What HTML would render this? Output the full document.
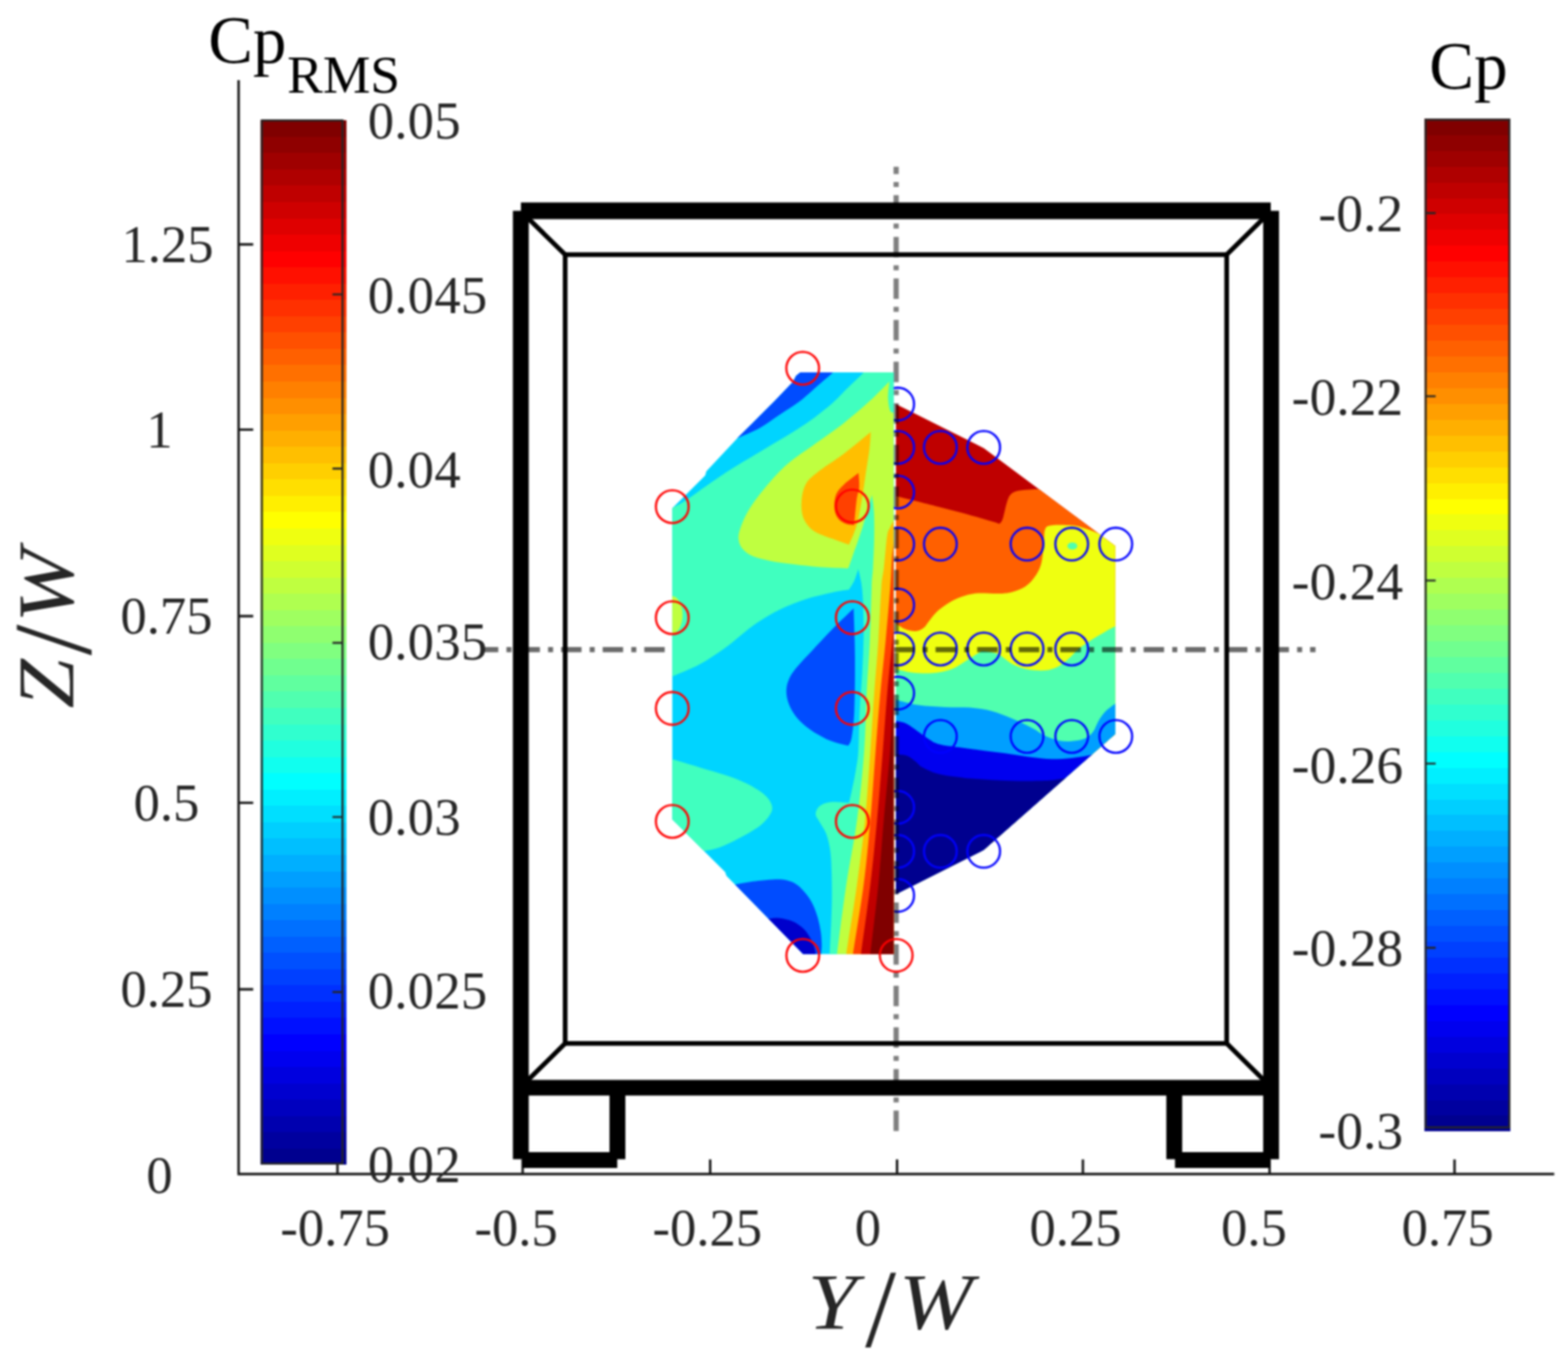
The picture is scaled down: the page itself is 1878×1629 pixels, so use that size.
<!DOCTYPE html>
<html lang="en">
<head>
<meta charset="utf-8">
<title>Cp and Cp RMS base pressure contours</title>
<style>
html,body{margin:0;padding:0;background:#fff;}
body{width:1878px;height:1629px;overflow:hidden;}
svg{display:block;}
</style>
</head>
<body>
<svg width="1878" height="1629" viewBox="0 0 1878 1629">
<rect width="1878" height="1629" fill="#fff"/>
<defs><filter id="soft" x="-2%" y="-2%" width="104%" height="104%" color-interpolation-filters="sRGB"><feGaussianBlur stdDeviation="1.0"/></filter></defs>
<g filter="url(#soft)">
<defs>
<clipPath id="cr"><polygon points="1073.1,484 1178.2,536.7 1335.8,654.1 1335.8,879.2 1178.2,1018.1 1073.1,1070.9"/></clipPath>
<clipPath id="cl"><polygon points="958.5,446 953.5,450 949.5,457.5 928,480 884.2,523.8 846,564.5 844.6,569.5 805.2,608.8 805.2,981.5 868.5,1044.5 870,1049 961.9,1142.8 1070.3,1142.8 1070.3,446"/></clipPath>
</defs>
<g clip-path="url(#cr)">
<rect x="1060" y="470" width="290" height="620" fill="#bf0000"/>
<path fill="#ff6000" d="M1060,593C1062.1,593.2 1062.1,591.9 1072.8,594.2C1083.5,596.5 1107.4,602.8 1123.9,607C1140.4,611.2 1160.3,616.5 1171.8,619.7C1183.3,622.9 1189.5,625 1193,626L1197,627.5C1197.7,626.5 1199.6,625.5 1201,621.5C1202.4,617.5 1203.9,608.6 1205.4,603.8C1206.9,599 1207.8,595.3 1210.2,592.6C1212.6,589.9 1215.5,588.9 1219.7,587.8C1224,586.7 1230.7,586.5 1235.7,586.2C1240.8,585.9 1247.6,586 1250,586L1350,586L1350,1100L1060,1100Z"/>
<path fill="#efff10" d="M1340,652C1336.5,650.1 1325.5,643.7 1318.8,640.5C1312.1,637.3 1305.9,634.9 1300,633C1294.1,631.1 1290.3,629.9 1283.6,629.3C1276.9,628.7 1265,628.5 1259.7,629.3C1254.4,630.1 1253.3,630.4 1251.7,634.1C1250.1,637.8 1250.9,644.8 1250.1,651.7C1249.3,658.6 1248.8,669.1 1246.9,675.7C1245,682.4 1242.1,687.1 1238.9,691.6C1235.7,696.1 1232.2,699.9 1227.7,702.8C1223.2,705.7 1217.1,707.8 1211.8,709.2C1206.5,710.6 1202.5,710.8 1195.8,711C1189.1,711.2 1178.5,710.1 1171.8,710.5C1165.1,710.9 1161.1,711.9 1155.8,713.5C1150.5,715.1 1145.2,717 1139.9,719.9C1134.6,722.8 1128.4,727.1 1123.9,731.1C1119.4,735.1 1115.6,740.4 1112.7,743.9C1109.8,747.4 1109,749.9 1106.3,751.9C1103.6,753.9 1100.4,755.6 1096.7,755.9C1093,756.2 1088,755 1084,753.5C1080,752 1076.8,749 1072.8,747.1C1068.8,745.2 1062.1,742.9 1060,742L1060,1100L1350,1100Z"/>
<path fill="#50ffaf" d="M1060,800C1062.1,800.2 1067.5,800.5 1072.8,801.4C1078.1,802.3 1084.8,804.6 1092,805.4C1099.2,806.2 1107.9,806.9 1115.9,806.2C1123.9,805.5 1132.7,804.1 1139.9,801.4C1147.1,798.7 1153.7,793.4 1159,790.2C1164.3,787 1168.6,783.9 1171.8,782.2C1175,780.5 1174.2,779.5 1178.2,779.8C1182.2,780.1 1190.2,781.3 1195.8,783.8C1201.4,786.3 1206.2,792.1 1211.8,795C1217.4,797.9 1222.6,800.1 1229.3,801.4C1236,802.7 1245.3,803.5 1251.7,803C1258.1,802.5 1262.9,800.6 1267.7,798.2C1272.5,795.8 1276.4,792.1 1280.4,788.6C1284.4,785.1 1287.1,781.1 1291.6,777.4C1296.1,773.7 1302.3,769.8 1307.6,766.3C1312.9,762.8 1318.9,759.4 1323.6,756.7C1328.3,754 1331.2,752.4 1335.6,750.3C1340,748.2 1347.6,745 1350,744L1350,1100L1060,1100Z"/>
<ellipse cx="1284.4" cy="654" rx="6" ry="4.3" fill="#50ffaf"/>
<path fill="#009fff" d="M1060,836C1062.1,836.4 1066.1,836.7 1072.8,838.1C1079.5,839.5 1090.1,843 1099.9,844.5C1109.8,846 1121.2,846.4 1131.9,846.9C1142.6,847.4 1154.5,846.9 1163.8,847.7C1173.1,848.5 1179.8,849.6 1187.8,851.7C1195.8,853.8 1203.8,857.2 1211.8,860.5C1219.8,863.8 1229,868.2 1235.7,871.7C1242.4,875.2 1246.4,878.8 1251.7,881.3C1257,883.8 1262.4,885.8 1267.7,886.9C1273,888 1278.3,888.1 1283.6,887.7C1288.9,887.3 1295.3,886.4 1299.6,884.5C1303.9,882.6 1306.5,880 1309.2,876.5C1311.9,873 1313.2,867.7 1315.6,863.7C1318,859.7 1320.3,856 1323.6,852.5C1326.9,849 1331.2,846 1335.6,842.9C1340,839.8 1347.6,835.5 1350,834L1350,1100L1060,1100Z"/>
<path fill="#0000ef" d="M1060,862C1062.1,862.2 1068.5,862.7 1072.8,863.5C1077.1,864.3 1081.5,864.8 1086,867C1090.5,869.2 1095.6,873.5 1099.9,876.5C1104.2,879.5 1108,882.5 1112,885C1116,887.5 1117.9,889.5 1123.9,891.2C1129.9,892.9 1139.9,893.9 1147.9,895.1C1155.9,896.3 1162.5,897.1 1171.8,898.3C1181.1,899.5 1193.1,900.8 1203.8,902.3C1214.5,903.8 1226.4,905.9 1235.7,907.1C1245,908.3 1251.7,909.2 1259.7,909.3C1267.7,909.4 1276.1,908.7 1283.6,907.9C1291,907.1 1298.3,906 1304.4,904.7C1310.5,903.4 1317.4,900.8 1320,900L1350,1100L1060,1100Z"/>
<path fill="#00008f" d="M1060,902C1062.1,902.2 1068.3,902.7 1072.8,903.3C1077.3,903.9 1083,904 1087,905.5C1091,907 1094,910.2 1097,912.5C1100,914.8 1100.2,916.7 1104.7,919.1C1109.2,921.5 1115.4,925 1123.9,927.1C1132.4,929.2 1145.2,930.7 1155.8,931.9C1166.4,933.1 1177.1,933.7 1187.8,934.3C1198.5,934.9 1209,935.4 1219.7,935.5C1230.4,935.6 1242.9,935.6 1251.7,935.1C1260.5,934.6 1266.1,933.7 1272.5,932.7C1278.9,931.7 1287.1,929.6 1290,929L1350,1100L1060,1100Z"/>
</g>
<g fill="none" stroke="#0000ff" stroke-width="2.6">
<circle cx="1075.2" cy="484" r="19.6"/>
<circle cx="1075.2" cy="535.9" r="19.6"/>
<circle cx="1075.2" cy="589.4" r="19.6"/>
<circle cx="1075.2" cy="651.7" r="19.6"/>
<circle cx="1075.2" cy="724.7" r="19.6"/>
<circle cx="1075.2" cy="777.4" r="19.6"/>
<circle cx="1075.2" cy="830.2" r="19.6"/>
<circle cx="1075.2" cy="967" r="19.6"/>
<circle cx="1075.2" cy="1019.7" r="19.6"/>
<circle cx="1075.2" cy="1072.5" r="19.6"/>
<circle cx="1126.3" cy="535.9" r="19.6"/>
<circle cx="1178.2" cy="535.9" r="19.6"/>
<circle cx="1126.3" cy="651.7" r="19.6"/>
<circle cx="1230.1" cy="651.7" r="19.6"/>
<circle cx="1283.6" cy="651.7" r="19.6"/>
<circle cx="1336.4" cy="651.7" r="19.6"/>
<circle cx="1126.3" cy="777.4" r="19.6"/>
<circle cx="1178.2" cy="777.4" r="19.6"/>
<circle cx="1230.1" cy="777.4" r="19.6"/>
<circle cx="1283.6" cy="777.4" r="19.6"/>
<circle cx="1126.3" cy="882.1" r="19.6"/>
<circle cx="1230.1" cy="882.1" r="19.6"/>
<circle cx="1283.6" cy="882.1" r="19.6"/>
<circle cx="1336.4" cy="882.1" r="19.6"/>
<circle cx="1126.3" cy="1019.7" r="19.6"/>
<circle cx="1178.2" cy="1019.7" r="19.6"/>
</g>
<g stroke="#000" stroke-opacity="0.5" stroke-width="6.2" stroke-dasharray="24.5 9.8 6 9.54" fill="none">
<path d="M1073.3,1354.8V199.8"/>
<path d="M580,778.2H1575.6" stroke-dashoffset="7.7" stroke-opacity="0.58"/>
</g>
<g clip-path="url(#cl)">
<rect x="795" y="436" width="285" height="716" fill="#00d4ff"/>
<path fill="#004cff" d="M1004,436C1003,437.7 1001.4,442 997.7,446C994,450 988.4,454.1 981.7,459.9C975,465.7 965.7,474.6 957.7,480.7C949.7,486.8 941.8,491.4 933.8,496.7C925.8,502 918.1,508.1 909.8,512.7C901.5,517.3 890.3,521.5 884,524.5C877.7,527.5 874,529.9 872,531L850,430Z"/>
<path fill="#004cff" d="M1022.4,728.7C1018.3,732.7 1005.8,744.5 997.7,752.7C989.6,761 980.9,770.5 973.7,778.2C966.5,785.9 959.3,793.1 954.5,799C949.7,804.9 947.1,808.6 945,813.4C942.9,818.2 941.8,822.7 941.8,827.7C941.8,832.8 942.9,838.4 945,843.7C947.1,849 950.2,854.6 954.5,859.7C958.8,864.8 964.6,869.9 970.5,874.1C976.4,878.4 983.9,882.4 989.7,885.2C995.6,888 1001.2,889.5 1005.6,890.8C1010,892.1 1014.3,892.8 1016,893.2L1016,893.2C1016.7,891.6 1018.8,890.5 1020,883.6C1021.2,876.7 1022.5,867.7 1023.2,851.7C1023.9,835.7 1024.1,808.3 1024,787.8C1023.9,767.3 1022.7,738.6 1022.4,728.7Z"/>
<path fill="#004cff" d="M870,1062C871.6,1061.6 874.2,1060.7 879.5,1059.7C884.8,1058.7 894.1,1056.8 901.8,1055.8C909.5,1054.8 919.1,1053.7 925.8,1053.4C932.5,1053.1 937,1053.2 941.8,1054.2C946.6,1055.2 950.5,1056.9 954.5,1059.7C958.5,1062.5 962.5,1066.9 965.7,1070.9C968.9,1074.9 971.4,1078.9 973.7,1083.7C976,1088.5 978.1,1094.4 979.6,1099.7C981.1,1105 982.2,1110.4 983,1115.7C983.8,1121 984.1,1127.1 984.2,1131.6C984.3,1136.1 983.6,1139.4 983.4,1142.8C983.2,1146.2 983.1,1150.5 983,1152L850,1152L850,1040Z"/>
<path fill="#0000cc" d="M912,1102C913.5,1101.8 917.4,1100.9 921,1100.5C924.6,1100.1 929,1099.2 933.8,1099.7C938.6,1100.2 944.9,1101.6 949.7,1103.7C954.5,1105.8 959,1109.2 962.5,1112.5C966,1115.8 968.4,1119.9 970.5,1123.6C972.6,1127.3 974.2,1131.6 975.3,1134.8C976.4,1138 976.6,1139.9 976.9,1142.8C977.2,1145.7 977,1150.5 977,1152L900,1152L900,1090Z"/>
<path fill="#40ffbf" d="M1040,436C1039.1,437.7 1038.8,440.9 1034.4,446C1030,451.1 1019.7,460.2 1013.6,466.3C1007.5,472.4 1004.4,476.4 997.7,482.3C991.1,488.2 981.7,495.6 973.7,501.5C965.7,507.4 957.7,512.4 949.7,517.4C941.7,522.4 933.8,527 925.8,531.8C917.8,536.6 909.8,541.4 901.8,546.2C893.8,551 885.9,555.6 877.9,560.6C869.9,565.6 860.6,572 853.9,576.5C847.2,581 843.2,584 837.9,587.7C832.6,591.4 827.3,595.4 821.9,598.9C816.5,602.4 809.7,606 805.2,608.5C800.7,611 796.7,613.1 795,614L795,814C796.7,813.4 798.1,813.2 805.2,810.2C812.4,807.2 827.1,801.7 837.9,795.8C848.7,789.9 859.2,782.7 869.9,775C880.5,767.3 891.1,757 901.8,749.5C912.4,742 923.1,735.6 933.8,730.3C944.4,725 955.1,721 965.7,717.5C976.4,714 989.2,711.4 997.7,709.5C1006.2,707.6 1013.6,706.8 1016.8,706.3L1016.8,706.3C1017.8,704.6 1021.1,700.1 1023,696C1024.9,691.9 1027.2,684 1028,681.6L1028,681.6C1028.8,686 1031.7,695.5 1032.8,707.9C1033.9,720.3 1034.4,739.8 1034.4,755.8C1034.4,771.8 1033.6,787.8 1032.8,803.8C1032,819.8 1030.4,835.7 1029.6,851.7C1028.8,867.7 1028.8,888 1028,900C1027.2,912 1026.1,916 1024.8,924C1023.5,932 1021.3,941.6 1020,947.9C1018.7,954.1 1017.3,959.2 1016.8,961.5L1016.8,961.5C1013.1,961.4 1000.4,960 994.5,960.7C988.6,961.4 984.6,963.1 981.7,965.5C978.8,967.9 976.9,971.9 976.9,975.1C976.9,978.3 979.6,980.7 981.7,984.7C983.8,988.7 987.6,993.1 989.7,999C991.8,1004.9 993.5,1012.3 994.5,1019.8C995.5,1027.3 995.7,1034.5 996,1043.8C996.3,1053.1 996.5,1065 996.4,1075.7C996.3,1086.4 995.9,1096.5 995.4,1107.7C994.9,1118.9 994,1135.4 993.6,1142.8C993.2,1150.2 993.3,1150.5 993.3,1152L1080,1152L1080,436Z"/>
<path fill="#40ffbf" d="M795,908C796.7,908.3 798.1,907.7 805.2,909.6C812.4,911.5 827.1,916 837.9,919.2C848.7,922.4 860.6,925.6 869.9,928.8C879.2,932 886.3,934.6 893.8,938.3C901.2,942 909.5,946.8 914.6,951.1C919.7,955.4 922.9,959.9 924.2,963.9C925.5,967.9 925,970.8 922.6,975.1C920.2,979.4 915.9,984.7 909.8,989.5C903.7,994.3 893.8,999.5 885.8,1003.8C877.8,1008 868.8,1012.5 861.9,1015C855,1017.5 848.6,1018.2 844.3,1019C840,1019.8 837.4,1019.8 836,1020L795,1022Z"/>
<path fill="#bfff40" d="M1065.2,456.9C1061.2,460.8 1050.5,472.3 1041.4,480.6C1032.3,488.9 1020.9,498.6 1010.7,506.7C1000.5,514.8 989.6,522.1 980,529C970.4,535.9 960,542.8 953,548C946,553.2 943.1,555.7 938,560.5C932.9,565.3 927.7,571.1 922.5,577C917.3,582.9 911.6,589.8 907,596C902.4,602.2 898.3,608 895,614C891.7,620 888.8,626.8 887,632C885.2,637.2 884.2,640.8 884.5,645C884.8,649.2 886.1,653.5 889,657C891.9,660.5 895.7,663.7 901.8,666.3C907.9,668.9 917.8,671 925.8,672.6C933.8,674.2 940.4,674.7 949.7,675.8C959,676.9 970.7,678.4 981.7,679.2C992.8,680 1010.3,680.5 1016,680.8L1016,680.8C1016.7,678.9 1018.8,673.1 1020,669.6C1021.2,666.1 1022.2,662.9 1023.2,660C1024.2,657.1 1024.2,657.6 1026,652.5C1027.8,647.4 1030.6,639.5 1033.7,629.5C1036.8,619.5 1042.6,598.8 1044.4,592.7L1044.4,592.7C1044.8,596.3 1046.4,605.4 1046.8,614.1C1047.2,622.8 1047.2,633.8 1047,644.8C1046.8,655.8 1046.1,670.1 1045.6,680C1045.1,689.9 1044.6,689.3 1044,704C1043.4,718.7 1042.8,746.8 1041.8,768C1040.8,789.2 1039.1,809 1038,831C1036.9,853 1036.9,874.7 1035,900C1033.1,925.3 1030,956.4 1026.4,983C1022.8,1009.6 1017.6,1033.1 1013.6,1059.7C1009.6,1086.3 1004.5,1127.4 1002.5,1142.8C1000.5,1158.2 1001.7,1150.5 1001.5,1152L1080,1152L1080,496C1078.4,495.7 1072.6,495.2 1070.3,494.4C1068,493.6 1067,494.5 1065.9,491.4C1064.8,488.3 1063.7,481.8 1063.6,476C1063.5,470.2 1064.9,460.1 1065.2,456.9Z"/>
<ellipse cx="805" cy="736.5" rx="12.5" ry="22.5" fill="#bfff40"/>
<path fill="#ffbf00" d="M1042.9,517.5C1037.5,521.8 1021.2,535.6 1010.7,543.5C1000.2,551.4 987.6,558.9 980,565C972.4,571.1 968.3,574.2 965,580C961.7,585.8 960.5,593.3 960,600C959.5,606.7 960,614.3 962,620C964,625.7 968.2,630.5 972,634C975.8,637.5 981.1,639.2 985,641C988.9,642.8 990,642.9 995.3,644.8C1000.6,646.7 1013.2,651.2 1016.8,652.5L1016.8,652.5C1018.3,648.7 1023.4,638.5 1026,629.5C1028.6,620.5 1030.4,609 1032.2,598.8C1034,588.6 1035.3,578.3 1036.8,568.1C1038.3,557.9 1040.4,545.8 1041.4,537.4C1042.4,529 1042.7,520.8 1042.9,517.5Z"/>
<path fill="#ffbf00" d="M1071,622C1070.2,623.7 1067.4,628.7 1066,632C1064.6,635.3 1063.7,634 1062.5,642C1061.3,650 1059.8,669.7 1058.6,680C1057.4,690.3 1056.7,689.3 1055.6,704C1054.5,718.7 1053.4,746.8 1052,768C1050.6,789.2 1048.6,809 1047,831C1045.4,853 1044.2,874.7 1042.4,900C1040.6,925.3 1038.7,956.4 1036,983C1033.3,1009.6 1030.1,1033.1 1026.4,1059.7C1022.7,1086.3 1015.9,1127.4 1013.6,1142.8C1011.3,1158.2 1012.8,1150.5 1012.6,1152L1080,1152L1080,622Z"/>
<path fill="#ff4000" d="M1028.3,566.6C1025.4,568.9 1015.2,576.2 1010.7,580.4C1006.2,584.6 1003.4,587.4 1001.5,592C999.6,596.6 999,603.3 999.3,608C999.5,612.7 1000.9,616.8 1003,620C1005.1,623.2 1008.7,625.5 1012,627C1015.3,628.5 1021.2,628.7 1023,629L1023,629C1023.5,624 1025,606.4 1026,598.8C1027,591.2 1028.7,588.8 1029.1,583.4C1029.5,578 1028.4,569.4 1028.3,566.6Z"/>
<path fill="#ff4000" d="M1071,645C1070.6,648.8 1069.2,658.2 1068.4,668C1067.6,677.8 1067.6,687.3 1066.3,704C1065,720.7 1062.7,746.8 1060.7,768C1058.7,789.2 1056.3,809 1054.3,831C1052.3,853 1050.7,874.7 1048.7,900C1046.7,925.3 1044.8,956.4 1042.4,983C1040,1009.6 1037.9,1033.1 1034.4,1059.7C1030.9,1086.3 1023.9,1127.4 1021.6,1142.8C1019.3,1158.2 1020.8,1150.5 1020.6,1152L1080,1152L1080,645Z"/>
<path fill="#c00000" d="M1071,742C1070.6,746.3 1070.1,753.2 1068.7,768C1067.3,782.8 1064.5,809 1062.6,831C1060.7,853 1059.3,874.7 1057.3,900C1055.3,925.3 1052.9,956.4 1050.4,983C1047.9,1009.6 1045.6,1033.1 1042.4,1059.7C1039.2,1086.3 1033.2,1127.4 1031.2,1142.8C1029.2,1158.2 1030.4,1150.5 1030.2,1152L1080,1152L1080,742Z"/>
<path fill="#800000" d="M1071,815C1070.7,819.2 1070.1,825.8 1069.3,840C1068.5,854.2 1067.8,876.2 1066,900C1064.2,923.8 1060.7,956.4 1058.4,983C1056.1,1009.6 1054.7,1033.1 1052,1059.7C1049.3,1086.3 1044.2,1127.4 1042.4,1142.8C1040.6,1158.2 1041.6,1150.5 1041.4,1152L1080,1152L1080,815Z"/>
</g>
<g stroke="#141414" stroke-width="2.9" fill="none">
<path d="M285.8,96V1406.2H1861.5"/>
<path d="M285.8,1185h17.5M285.8,961.6h17.5M285.8,738h17.5M285.8,514.6h17.5M285.8,292.7h17.5M404.2,1406.2v-17.5M626,1406.2v-17.5M850.6,1406.2v-17.5M1074.4,1406.2v-17.5M1297,1406.2v-17.5M1520.6,1406.2v-17.5M1742.1,1406.2v-17.5"/>
</g>
<g shape-rendering="crispEdges"><rect x="312.4" y="1375.25" width="102.7" height="19.55" fill="#00008f"/><rect x="312.4" y="1355.70" width="102.7" height="20.15" fill="#00009f"/><rect x="312.4" y="1336.15" width="102.7" height="20.15" fill="#0000af"/><rect x="312.4" y="1316.60" width="102.7" height="20.15" fill="#0000bf"/><rect x="312.4" y="1297.05" width="102.7" height="20.15" fill="#0000cf"/><rect x="312.4" y="1277.50" width="102.7" height="20.15" fill="#0000df"/><rect x="312.4" y="1257.95" width="102.7" height="20.15" fill="#0000ef"/><rect x="312.4" y="1238.40" width="102.7" height="20.15" fill="#0000ff"/><rect x="312.4" y="1218.85" width="102.7" height="20.15" fill="#0010ff"/><rect x="312.4" y="1199.30" width="102.7" height="20.15" fill="#0020ff"/><rect x="312.4" y="1179.75" width="102.7" height="20.15" fill="#0030ff"/><rect x="312.4" y="1160.20" width="102.7" height="20.15" fill="#0040ff"/><rect x="312.4" y="1140.65" width="102.7" height="20.15" fill="#0050ff"/><rect x="312.4" y="1121.10" width="102.7" height="20.15" fill="#0060ff"/><rect x="312.4" y="1101.55" width="102.7" height="20.15" fill="#0070ff"/><rect x="312.4" y="1082.00" width="102.7" height="20.15" fill="#0080ff"/><rect x="312.4" y="1062.45" width="102.7" height="20.15" fill="#008fff"/><rect x="312.4" y="1042.90" width="102.7" height="20.15" fill="#009fff"/><rect x="312.4" y="1023.35" width="102.7" height="20.15" fill="#00afff"/><rect x="312.4" y="1003.80" width="102.7" height="20.15" fill="#00bfff"/><rect x="312.4" y="984.25" width="102.7" height="20.15" fill="#00cfff"/><rect x="312.4" y="964.70" width="102.7" height="20.15" fill="#00dfff"/><rect x="312.4" y="945.15" width="102.7" height="20.15" fill="#00efff"/><rect x="312.4" y="925.60" width="102.7" height="20.15" fill="#00ffff"/><rect x="312.4" y="906.05" width="102.7" height="20.15" fill="#10ffef"/><rect x="312.4" y="886.50" width="102.7" height="20.15" fill="#20ffdf"/><rect x="312.4" y="866.95" width="102.7" height="20.15" fill="#30ffcf"/><rect x="312.4" y="847.40" width="102.7" height="20.15" fill="#40ffbf"/><rect x="312.4" y="827.85" width="102.7" height="20.15" fill="#50ffaf"/><rect x="312.4" y="808.30" width="102.7" height="20.15" fill="#60ff9f"/><rect x="312.4" y="788.75" width="102.7" height="20.15" fill="#70ff8f"/><rect x="312.4" y="769.20" width="102.7" height="20.15" fill="#80ff80"/><rect x="312.4" y="749.65" width="102.7" height="20.15" fill="#8fff70"/><rect x="312.4" y="730.10" width="102.7" height="20.15" fill="#9fff60"/><rect x="312.4" y="710.55" width="102.7" height="20.15" fill="#afff50"/><rect x="312.4" y="691.00" width="102.7" height="20.15" fill="#bfff40"/><rect x="312.4" y="671.45" width="102.7" height="20.15" fill="#cfff30"/><rect x="312.4" y="651.90" width="102.7" height="20.15" fill="#dfff20"/><rect x="312.4" y="632.35" width="102.7" height="20.15" fill="#efff10"/><rect x="312.4" y="612.80" width="102.7" height="20.15" fill="#ffff00"/><rect x="312.4" y="593.25" width="102.7" height="20.15" fill="#ffef00"/><rect x="312.4" y="573.70" width="102.7" height="20.15" fill="#ffdf00"/><rect x="312.4" y="554.15" width="102.7" height="20.15" fill="#ffcf00"/><rect x="312.4" y="534.60" width="102.7" height="20.15" fill="#ffbf00"/><rect x="312.4" y="515.05" width="102.7" height="20.15" fill="#ffaf00"/><rect x="312.4" y="495.50" width="102.7" height="20.15" fill="#ff9f00"/><rect x="312.4" y="475.95" width="102.7" height="20.15" fill="#ff8f00"/><rect x="312.4" y="456.40" width="102.7" height="20.15" fill="#ff8000"/><rect x="312.4" y="436.85" width="102.7" height="20.15" fill="#ff7000"/><rect x="312.4" y="417.30" width="102.7" height="20.15" fill="#ff6000"/><rect x="312.4" y="397.75" width="102.7" height="20.15" fill="#ff5000"/><rect x="312.4" y="378.20" width="102.7" height="20.15" fill="#ff4000"/><rect x="312.4" y="358.65" width="102.7" height="20.15" fill="#ff3000"/><rect x="312.4" y="339.10" width="102.7" height="20.15" fill="#ff2000"/><rect x="312.4" y="319.55" width="102.7" height="20.15" fill="#ff1000"/><rect x="312.4" y="300.00" width="102.7" height="20.15" fill="#ff0000"/><rect x="312.4" y="280.45" width="102.7" height="20.15" fill="#ef0000"/><rect x="312.4" y="260.90" width="102.7" height="20.15" fill="#df0000"/><rect x="312.4" y="241.35" width="102.7" height="20.15" fill="#cf0000"/><rect x="312.4" y="221.80" width="102.7" height="20.15" fill="#bf0000"/><rect x="312.4" y="202.25" width="102.7" height="20.15" fill="#af0000"/><rect x="312.4" y="182.70" width="102.7" height="20.15" fill="#9f0000"/><rect x="312.4" y="163.15" width="102.7" height="20.15" fill="#8f0000"/><rect x="312.4" y="143.60" width="102.7" height="20.15" fill="#800000"/></g>
<rect x="313.6" y="144.2" width="96.6" height="1249.5" fill="none" stroke="#262626" stroke-width="2.4"/>
<g shape-rendering="crispEdges"><rect x="1706.2" y="1335.85" width="103" height="18.95" fill="#00008f"/><rect x="1706.2" y="1316.91" width="103" height="19.55" fill="#00009f"/><rect x="1706.2" y="1297.96" width="103" height="19.55" fill="#0000af"/><rect x="1706.2" y="1279.01" width="103" height="19.55" fill="#0000bf"/><rect x="1706.2" y="1260.07" width="103" height="19.55" fill="#0000cf"/><rect x="1706.2" y="1241.12" width="103" height="19.55" fill="#0000df"/><rect x="1706.2" y="1222.17" width="103" height="19.55" fill="#0000ef"/><rect x="1706.2" y="1203.22" width="103" height="19.55" fill="#0000ff"/><rect x="1706.2" y="1184.28" width="103" height="19.55" fill="#0010ff"/><rect x="1706.2" y="1165.33" width="103" height="19.55" fill="#0020ff"/><rect x="1706.2" y="1146.38" width="103" height="19.55" fill="#0030ff"/><rect x="1706.2" y="1127.44" width="103" height="19.55" fill="#0040ff"/><rect x="1706.2" y="1108.49" width="103" height="19.55" fill="#0050ff"/><rect x="1706.2" y="1089.54" width="103" height="19.55" fill="#0060ff"/><rect x="1706.2" y="1070.60" width="103" height="19.55" fill="#0070ff"/><rect x="1706.2" y="1051.65" width="103" height="19.55" fill="#0080ff"/><rect x="1706.2" y="1032.70" width="103" height="19.55" fill="#008fff"/><rect x="1706.2" y="1013.76" width="103" height="19.55" fill="#009fff"/><rect x="1706.2" y="994.81" width="103" height="19.55" fill="#00afff"/><rect x="1706.2" y="975.86" width="103" height="19.55" fill="#00bfff"/><rect x="1706.2" y="956.92" width="103" height="19.55" fill="#00cfff"/><rect x="1706.2" y="937.97" width="103" height="19.55" fill="#00dfff"/><rect x="1706.2" y="919.02" width="103" height="19.55" fill="#00efff"/><rect x="1706.2" y="900.08" width="103" height="19.55" fill="#00ffff"/><rect x="1706.2" y="881.13" width="103" height="19.55" fill="#10ffef"/><rect x="1706.2" y="862.18" width="103" height="19.55" fill="#20ffdf"/><rect x="1706.2" y="843.23" width="103" height="19.55" fill="#30ffcf"/><rect x="1706.2" y="824.29" width="103" height="19.55" fill="#40ffbf"/><rect x="1706.2" y="805.34" width="103" height="19.55" fill="#50ffaf"/><rect x="1706.2" y="786.39" width="103" height="19.55" fill="#60ff9f"/><rect x="1706.2" y="767.45" width="103" height="19.55" fill="#70ff8f"/><rect x="1706.2" y="748.50" width="103" height="19.55" fill="#80ff80"/><rect x="1706.2" y="729.55" width="103" height="19.55" fill="#8fff70"/><rect x="1706.2" y="710.61" width="103" height="19.55" fill="#9fff60"/><rect x="1706.2" y="691.66" width="103" height="19.55" fill="#afff50"/><rect x="1706.2" y="672.71" width="103" height="19.55" fill="#bfff40"/><rect x="1706.2" y="653.77" width="103" height="19.55" fill="#cfff30"/><rect x="1706.2" y="634.82" width="103" height="19.55" fill="#dfff20"/><rect x="1706.2" y="615.87" width="103" height="19.55" fill="#efff10"/><rect x="1706.2" y="596.92" width="103" height="19.55" fill="#ffff00"/><rect x="1706.2" y="577.98" width="103" height="19.55" fill="#ffef00"/><rect x="1706.2" y="559.03" width="103" height="19.55" fill="#ffdf00"/><rect x="1706.2" y="540.08" width="103" height="19.55" fill="#ffcf00"/><rect x="1706.2" y="521.14" width="103" height="19.55" fill="#ffbf00"/><rect x="1706.2" y="502.19" width="103" height="19.55" fill="#ffaf00"/><rect x="1706.2" y="483.24" width="103" height="19.55" fill="#ff9f00"/><rect x="1706.2" y="464.30" width="103" height="19.55" fill="#ff8f00"/><rect x="1706.2" y="445.35" width="103" height="19.55" fill="#ff8000"/><rect x="1706.2" y="426.40" width="103" height="19.55" fill="#ff7000"/><rect x="1706.2" y="407.46" width="103" height="19.55" fill="#ff6000"/><rect x="1706.2" y="388.51" width="103" height="19.55" fill="#ff5000"/><rect x="1706.2" y="369.56" width="103" height="19.55" fill="#ff4000"/><rect x="1706.2" y="350.62" width="103" height="19.55" fill="#ff3000"/><rect x="1706.2" y="331.67" width="103" height="19.55" fill="#ff2000"/><rect x="1706.2" y="312.72" width="103" height="19.55" fill="#ff1000"/><rect x="1706.2" y="293.78" width="103" height="19.55" fill="#ff0000"/><rect x="1706.2" y="274.83" width="103" height="19.55" fill="#ef0000"/><rect x="1706.2" y="255.88" width="103" height="19.55" fill="#df0000"/><rect x="1706.2" y="236.93" width="103" height="19.55" fill="#cf0000"/><rect x="1706.2" y="217.99" width="103" height="19.55" fill="#bf0000"/><rect x="1706.2" y="199.04" width="103" height="19.55" fill="#af0000"/><rect x="1706.2" y="180.09" width="103" height="19.55" fill="#9f0000"/><rect x="1706.2" y="161.15" width="103" height="19.55" fill="#8f0000"/><rect x="1706.2" y="142.20" width="103" height="19.55" fill="#800000"/></g>
<rect x="1707.5" y="143.3" width="100.3" height="1207.1" fill="none" stroke="#262626" stroke-width="2.4"/>
<g stroke="#262626" stroke-width="2.4" fill="none">
<path d="M410.2,352.6h-12M410.2,561.3h-12M410.2,770h-12M410.2,978.6h-12M410.2,1188.2h-12M1707.5,255.2h12M1707.5,474.6h12M1707.5,695.4h12M1707.5,914.6h12M1707.5,1135.2h12"/>
</g>
<g stroke="#000" fill="none" stroke-width="5.6">
<rect x="676.9" y="305" width="792.3" height="944.8"/>
<path d="M676.9,305L630,259M1469.2,305L1516,259M676.9,1249.8L630,1296M1469.2,1249.8L1516,1296"/>
</g>
<g stroke="#000" fill="none" stroke-width="19">
<path d="M623.9,252.4H1522" stroke-width="20"/>
<path d="M623.8,252.5V1388.6"/>
<path d="M1522.4,252.5V1388.6"/>
<path d="M623.9,1302.9H1522.4" stroke-width="18.6"/>
<path d="M739.5,1302.9V1388.6"/>
<path d="M1406.4,1302.9V1388.6"/>
<path d="M625.2,1389.5H739.3"/>
<path d="M1407.3,1389.5H1521.6"/>
</g>
<g fill="none" stroke="#ff0000" stroke-width="2.6">
<circle cx="961.4" cy="441.1" r="19.6"/>
<circle cx="805.2" cy="606.9" r="19.6"/>
<circle cx="1020.8" cy="606.1" r="19.6"/>
<circle cx="805.2" cy="739.9" r="19.6"/>
<circle cx="1020.8" cy="739.9" r="19.6"/>
<circle cx="805.2" cy="848.5" r="19.6"/>
<circle cx="1020.8" cy="848.5" r="19.6"/>
<circle cx="805.2" cy="983.9" r="19.6"/>
<circle cx="1020.8" cy="983.9" r="19.6"/>
<circle cx="961.5" cy="1144.4" r="19.6"/>
<circle cx="1073.4" cy="1144.3" r="19.6"/>
</g>
<g font-family='"Liberation Serif", "DejaVu Serif", serif' font-size="63" fill="#262626">
<text x="200.6" y="313.6" text-anchor="middle">1.25</text>
<text x="191" y="536" text-anchor="middle">1</text>
<text x="199.4" y="758.6" text-anchor="middle">0.75</text>
<text x="199.4" y="983.4" text-anchor="middle">0.5</text>
<text x="199.4" y="1206.1" text-anchor="middle">0.25</text>
<text x="190.9" y="1429.3" text-anchor="middle">0</text>
<text x="401.4" y="1491.6" text-anchor="middle">-0.75</text>
<text x="618.2" y="1491.6" text-anchor="middle">-0.5</text>
<text x="847.2" y="1491.6" text-anchor="middle">-0.25</text>
<text x="1039.6" y="1491.6" text-anchor="middle">0</text>
<text x="1288.2" y="1491.6" text-anchor="middle">0.25</text>
<text x="1501.8" y="1491.6" text-anchor="middle">0.5</text>
<text x="1733.8" y="1491.6" text-anchor="middle">0.75</text>
<text x="440.4" y="165.8" letter-spacing="0.35">0.05</text>
<text x="440.4" y="375.4" letter-spacing="0.35">0.045</text>
<text x="440.4" y="583.6" letter-spacing="0.35">0.04</text>
<text x="440.4" y="790.3" letter-spacing="0.35">0.035</text>
<text x="440.4" y="999.6" letter-spacing="0.35">0.03</text>
<text x="440.4" y="1208.4" letter-spacing="0.35">0.025</text>
<text x="440.4" y="1415.8" letter-spacing="0.35">0.02</text>
<text x="1680.4" y="277.1" text-anchor="end" font-size="64">-0.2</text>
<text x="1680.4" y="497.3" text-anchor="end" font-size="64">-0.22</text>
<text x="1680.4" y="717.8" text-anchor="end" font-size="64">-0.24</text>
<text x="1680.4" y="938" text-anchor="end" font-size="64">-0.26</text>
<text x="1680.4" y="1156.5" text-anchor="end" font-size="64">-0.28</text>
<text x="1680.4" y="1376.4" text-anchor="end" font-size="64">-0.3</text>
</g>
<g font-family='"Liberation Serif", "DejaVu Serif", serif' fill="#000">
<text x="249.6" y="74.8" font-size="80">Cp<tspan font-size="64" dy="36.2" dx="1">RMS</tspan></text>
<text x="1711.8" y="106.3" font-size="80.5">Cp</text>
</g>
<g font-family='"Liberation Serif", "DejaVu Serif", serif' fill="#262626" font-style="italic" font-size="95">
<text transform="translate(967.2,1592) scale(1.12,1)" x="0" y="0">Y</text>
<text transform="translate(1076.6,1592) scale(1.12,1)" x="0" y="0">W</text>
<text x="1036.3" y="1612.5" font-size="133" font-style="normal">/</text>
<g transform="translate(87.7,0) rotate(-90)">
<text transform="translate(-848.4,0) scale(1.12,1)" x="0" y="0">Z</text>
<text transform="translate(-745.9,0) scale(1.12,1)" x="0" y="0">W</text>
<text x="-785" y="20.5" font-size="133" font-style="normal">/</text>
</g>
</g>
</g>
</svg>
</body>
</html>
